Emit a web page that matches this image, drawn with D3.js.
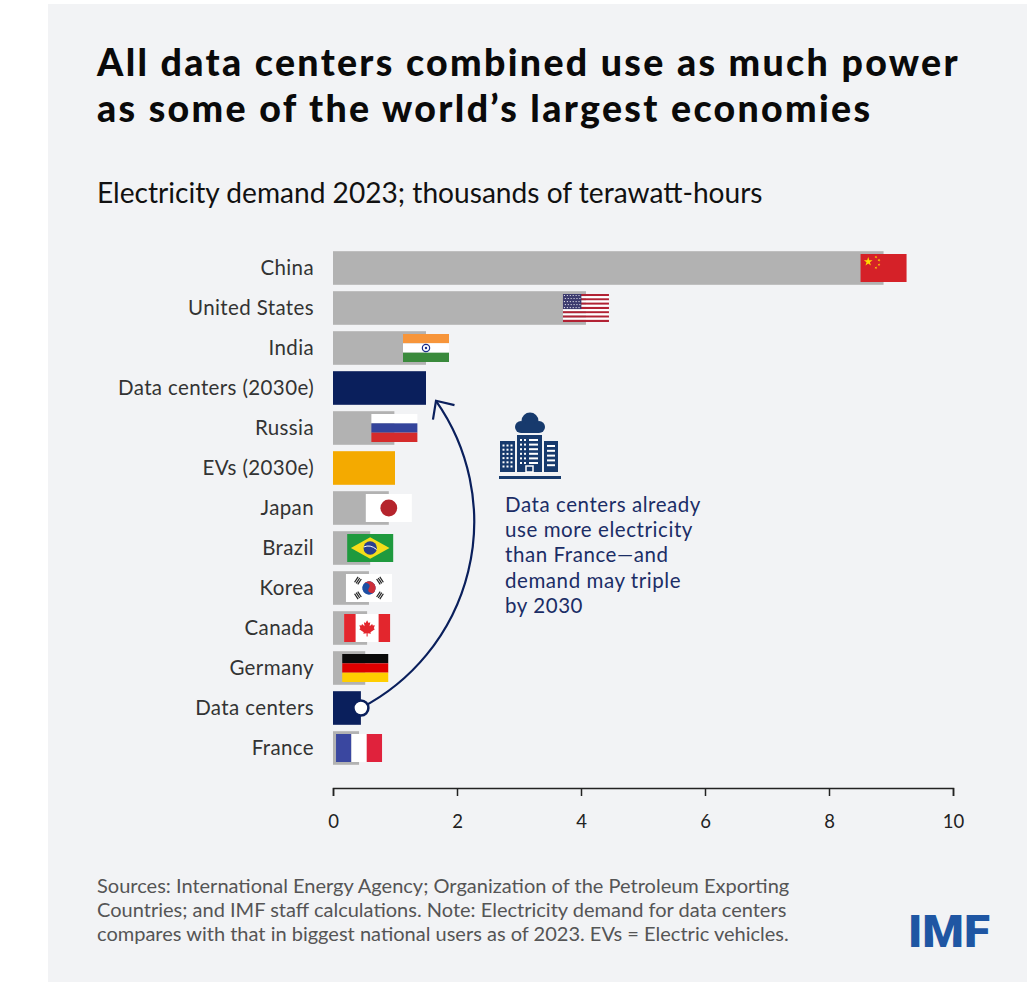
<!DOCTYPE html>
<html>
<head>
<meta charset="utf-8">
<script src="https://cdn.jsdelivr.net/npm/d3@7"></script>
<style>
  html, body { margin: 0; padding: 0; background: #fff; }
  svg { display: block; }
  text { font-family: Lato, "Open Sans", "DejaVu Sans", sans-serif; }
</style>
</head>
<body>
<div id="app"></div>
<script>
// data (thousands of TWh, 2023 unless marked 2030e)
const categories = ["China", "United States", "India", "Data centers (2030e)", "Russia", "EVs (2030e)",
  "Japan", "Brazil", "Korea", "Canada", "Germany", "Data centers", "France"];
const demand = [8.88, 4.08, 1.5, 1.5, 0.99, 1.0, 0.9, 0.6, 0.58, 0.55, 0.52, 0.45, 0.42];
const groups = ["country", "country", "country", "datacenter", "country", "ev",
  "country", "country", "country", "country", "country", "datacenter", "country"];
const flags = ["cn", "us", "in", null, "ru", null, "jp", "br", "kr", "ca", "de", null, "fr"];
const xTicks = [0, 2, 4, 6, 8, 10];

const titleLines = ["All data centers combined use as much power", "as some of the world\u2019s largest economies"];
const subtitle = "Electricity demand 2023; thousands of terawatt-hours";
const noteLines = ["Data centers already", "use more electricity", "than France\u2014and", "demand may triple", "by 2030"];
const sourceLines = [
  "Sources: International Energy Agency; Organization of the Petroleum Exporting",
  "Countries; and IMF staff calculations. Note: Electricity demand for data centers",
  "compares with that in biggest national users as of 2023. EVs = Electric vehicles."
];

const W = 1035, H = 999;
const navy = "#0a1f5c";
const colors = { country: "#b2b2b2", datacenter: navy, ev: "#f4aa00" };

const rows = categories.map((c, i) => ({ name: c, value: demand[i], group: groups[i], flag: flags[i] }));

const svg = d3.select("#app").append("svg").attr("width", W).attr("height", H);
svg.append("rect").attr("x", 48).attr("y", 4).attr("width", 979).attr("height", 978).attr("fill", "#f2f3f5");

// fit a block of lines to a target width by adjusting font size
function fitLines(sel, target, size) {
  const w = sel.nodes()[0].getComputedTextLength();
  sel.attr("font-size", size * target / w);
}
// fit by letter spacing, measured on one line of the block
function fitSpacing(sel, idx, target) {
  const node = sel.nodes()[idx];
  const w = node.getComputedTextLength();
  const n = node.textContent.length;
  sel.attr("letter-spacing", (target - w) / n);
}

const title = svg.append("g").selectAll("text").data(titleLines).join("text")
  .attr("x", 97).attr("y", (d, i) => 76 + i * 46)
  .attr("font-weight", 900).attr("font-size", 37.5).attr("fill", "#0a0a0a")
  .text(d => d);
fitSpacing(title, 0, 863);

const sub = svg.append("text").attr("x", 97).attr("y", 203)
  .attr("font-size", 24).attr("fill", "#111").text(subtitle);
fitLines(sub, 666, 24);

const x = d3.scaleLinear().domain([0, 10]).range([333, 953]);
const y = d3.scaleBand().domain(categories).range([248, 768]).paddingInner(0.16).paddingOuter(0.08);
const bw = y.bandwidth();

// category labels
const labels = svg.append("g").selectAll("text").data(rows).join("text")
  .attr("x", 314).attr("y", d => y(d.name) + bw / 2).attr("dy", "0.35em")
  .attr("text-anchor", "end").attr("font-size", 20.5).attr("fill", "#333")
  .text(d => d.name);
fitSpacing(labels, 3, 196);

// bars
svg.append("g").selectAll("rect").data(rows).join("rect")
  .attr("x", x(0)).attr("y", d => y(d.name))
  .attr("width", d => x(d.value) - x(0)).attr("height", bw)
  .attr("fill", d => colors[d.group]);

// flags
function starPath(cx, cy, r, rot) {
  const pts = [];
  for (let k = 0; k < 10; k++) {
    const a = rot + k * Math.PI / 5 - Math.PI / 2;
    const rr = k % 2 ? r * 0.382 : r;
    pts.push([cx + rr * Math.cos(a), cy + rr * Math.sin(a)]);
  }
  return "M" + pts.join("L") + "Z";
}
function stripes(g, w, h, cols, vertical) {
  const n = cols.length;
  cols.forEach((c, i) => {
    g.append("rect")
      .attr("x", vertical ? i * w / n : 0).attr("y", vertical ? 0 : i * h / n)
      .attr("width", vertical ? w / n : w).attr("height", vertical ? h : h / n)
      .attr("fill", c);
  });
}
const leaf = "M0,-7L1.4,-4.2L3,-5L2.4,-1.2L4.8,-3.4L5.4,-1.8L7.4,-2.2L6.4,0.8L7.4,1.6L3.2,4.6L3.6,6L0.5,5.4L0.5,8.5L-0.5,8.5L-0.5,5.4L-3.6,6L-3.2,4.6L-7.4,1.6L-6.4,0.8L-7.4,-2.2L-5.4,-1.8L-4.8,-3.4L-2.4,-1.2L-3,-5L-1.4,-4.2Z";

function drawFlag(g, code, w, h) {
  if (code === "cn") {
    g.append("rect").attr("width", w).attr("height", h).attr("fill", "#d52128");
    const u = w / 30;
    g.append("path").attr("d", starPath(5 * u, 5 * u, 3 * u, 0)).attr("fill", "#ffde00");
    [[10, 2], [12, 4], [12, 7], [10, 9]].forEach(p =>
      g.append("path").attr("d", starPath(p[0] * u, p[1] * u, 1 * u, 0.4)).attr("fill", "#ffde00"));
  } else if (code === "us") {
    for (let i = 0; i < 13; i++) {
      g.append("rect").attr("y", i * h / 13).attr("width", w).attr("height", h / 13)
        .attr("fill", i % 2 ? "#fff" : "#b22234");
    }
    const cw = w * 0.4, ch = h * 7 / 13;
    g.append("rect").attr("width", cw).attr("height", ch).attr("fill", "#3c3b6e");
    for (let r = 0; r < 5; r++) for (let c = 0; c < 6; c++) {
      g.append("circle").attr("cx", (c + 0.5 + (r % 2) * 0.3) * cw / 6.3).attr("cy", (r + 0.5) * ch / 5)
        .attr("r", 0.6).attr("fill", "#fff");
    }
  } else if (code === "in") {
    stripes(g, w, h, ["#f7953a", "#ffffff", "#3a8a3c"], false);
    g.append("circle").attr("cx", w / 2).attr("cy", h / 2).attr("r", h * 0.13)
      .attr("fill", "none").attr("stroke", "#1c2f8a").attr("stroke-width", 1.2);
    g.append("circle").attr("cx", w / 2).attr("cy", h / 2).attr("r", 1.2).attr("fill", "#1c2f8a");
  } else if (code === "ru") {
    stripes(g, w, h, ["#ffffff", "#34449b", "#d52b2b"], false);
  } else if (code === "jp") {
    g.append("rect").attr("width", w).attr("height", h).attr("fill", "#fff");
    g.append("circle").attr("cx", w / 2).attr("cy", h / 2).attr("r", h * 0.3).attr("fill", "#b5242c");
  } else if (code === "br") {
    g.append("rect").attr("width", w).attr("height", h).attr("fill", "#1f9a3e");
    const m = w * 0.08;
    g.append("path").attr("d", `M${m},${h / 2}L${w / 2},${m * 0.9}L${w - m},${h / 2}L${w / 2},${h - m * 0.9}Z`)
      .attr("fill", "#f5dd1a");
    g.append("circle").attr("cx", w / 2).attr("cy", h / 2).attr("r", h * 0.24).attr("fill", "#2a3f8f");
    g.append("path").attr("d", `M${w / 2 - h * 0.23},${h / 2 - 1}Q${w / 2},${h / 2 - 4} ${w / 2 + h * 0.23},${h / 2 + 1.5}`)
      .attr("fill", "none").attr("stroke", "#fff").attr("stroke-width", 1);
  } else if (code === "kr") {
    g.append("rect").attr("width", w).attr("height", h).attr("fill", "#fff");
    const r = h / 4.2;
    const c = g.append("g").attr("transform", `translate(${w / 2},${h / 2}) rotate(33.7)`);
    c.append("circle").attr("r", r).attr("fill", "#1d4fa3");
    c.append("path").attr("d", `M${-r},0A${r},${r} 0 0 1 ${r},0A${r / 2},${r / 2} 0 0 1 0,0A${r / 2},${r / 2} 0 0 0 ${-r},0Z`)
      .attr("fill", "#cd2e3a");
    [33.7, 146.3, 213.7, 326.3].forEach(a => {
      const t = g.append("g").attr("transform", `translate(${w / 2},${h / 2}) rotate(${a}) translate(${h * 0.47},0) rotate(90)`);
      for (let k = 0; k < 3; k++) {
        t.append("rect").attr("x", -3.2).attr("y", -2.6 + k * 1.9).attr("width", 6.4).attr("height", 1.2).attr("fill", "#222");
      }
    });
  } else if (code === "ca") {
    g.append("rect").attr("width", w).attr("height", h).attr("fill", "#fff");
    g.append("rect").attr("width", w / 4).attr("height", h).attr("fill", "#e3262d");
    g.append("rect").attr("x", w * 0.75).attr("width", w / 4).attr("height", h).attr("fill", "#e3262d");
    g.append("path").attr("d", leaf).attr("transform", `translate(${w / 2},${h / 2 - 0.5}) scale(1.05)`).attr("fill", "#e3262d");
  } else if (code === "de") {
    stripes(g, w, h, ["#0a0a0a", "#dd0000", "#ffce00"], false);
  } else if (code === "fr") {
    stripes(g, w, h, ["#3a47a0", "#ffffff", "#e0223c"], true);
  }
}

const fw = 46, fh = 28;
svg.append("g").selectAll("g").data(rows.filter(d => d.flag)).join("g")
  .attr("transform", d => `translate(${x(d.value) - fw / 2},${y(d.name) + bw / 2 - fh / 2})`)
  .each(function (d) { drawFlag(d3.select(this), d.flag, fw, fh); });

// axis
const axis = d3.axisBottom(x).tickValues(xTicks).tickSize(8).tickSizeOuter(8).tickPadding(19).tickFormat(d3.format("d"));
svg.append("g").attr("transform", "translate(0,788)").call(axis)
  .call(g => g.selectAll("path, line").attr("stroke", "#222").attr("stroke-width", 1.5))
  .call(g => g.selectAll("text").attr("font-size", 18.5).attr("fill", "#222")
    .attr("font-family", "Lato, 'Open Sans', sans-serif"));

// arrow from today's data centers to 2030e
const start = [x(demand[11]), y("Data centers") + bw / 2];
const end = [x(demand[3]) + 10, y("Data centers (2030e)") + bw - 4];
const arc = svg.append("path")
  .attr("d", `M${start[0]},${start[1]}A210,210 0 0 0 ${end[0]},${end[1]}`)
  .attr("fill", "none").attr("stroke", navy).attr("stroke-width", 2.2);
const L = arc.node().getTotalLength();
const p0 = arc.node().getPointAtLength(L - 10);
const ang = Math.atan2(end[1] - p0.y, end[0] - p0.x);
const head = [ang + Math.PI - 0.75, ang + Math.PI + 0.75]
  .map(a => [end[0] + 19 * Math.cos(a), end[1] + 19 * Math.sin(a)]);
svg.append("path")
  .attr("d", `M${head[0]}L${end[0]},${end[1]}L${head[1]}`)
  .attr("fill", "none").attr("stroke", navy).attr("stroke-width", 2.2).attr("stroke-linejoin", "miter");
svg.append("circle").attr("cx", start[0]).attr("cy", start[1]).attr("r", 7.5)
  .attr("fill", "#fff").attr("stroke", navy).attr("stroke-width", 2.5);

// data center icon
const ic = "#173a6d";
const icon = svg.append("g").attr("transform", "translate(499,412)");
icon.append("circle").attr("cx", 31).attr("cy", 9).attr("r", 8.5).attr("fill", ic);
icon.append("circle").attr("cx", 22).attr("cy", 15).attr("r", 6).attr("fill", ic);
icon.append("circle").attr("cx", 40).attr("cy", 15).attr("r", 6).attr("fill", ic);
icon.append("rect").attr("x", 22).attr("y", 12).attr("width", 18).attr("height", 9).attr("fill", ic);
icon.append("rect").attr("x", 1).attr("y", 29).attr("width", 15).attr("height", 31).attr("fill", ic);
icon.append("rect").attr("x", 18).attr("y", 23).attr("width", 25).attr("height", 37).attr("fill", ic);
icon.append("rect").attr("x", 45).attr("y", 29).attr("width", 14).attr("height", 31).attr("fill", ic);
icon.append("rect").attr("x", 0).attr("y", 64).attr("width", 62).attr("height", 3).attr("fill", ic);
for (let r = 0; r < 6; r++) {
  for (let c = 0; c < 3; c++) {
    icon.append("rect").attr("x", 3.5 + c * 4).attr("y", 32.5 + r * 4.2).attr("width", 2).attr("height", 2).attr("fill", "#fff");
  }
  icon.append("rect").attr("x", 21).attr("y", 27 + r * 4.6).attr("width", 2).attr("height", 2).attr("fill", "#fff");
  icon.append("rect").attr("x", 25).attr("y", 27 + r * 4.6).attr("width", 2).attr("height", 2).attr("fill", "#fff");
  icon.append("rect").attr("x", 30).attr("y", 27 + r * 4.6).attr("width", 9).attr("height", 2).attr("fill", "#fff");
}
for (let r = 0; r < 5; r++) {
  icon.append("rect").attr("x", 48).attr("y", 33 + r * 4.8).attr("width", 8).attr("height", 2).attr("fill", "#fff");
}
icon.append("rect").attr("x", 27).attr("y", 54).attr("width", 7).attr("height", 6).attr("fill", "none")
  .attr("stroke", "#fff").attr("stroke-width", 1.5);

// annotation text
const note = svg.append("g").selectAll("text").data(noteLines).join("text")
  .attr("x", 505).attr("y", (d, i) => 512 + i * 25.2)
  .attr("font-size", 20.5).attr("fill", "#1b2d66").text(d => d);
fitSpacing(note, 0, 196);

// sources
const src = svg.append("g").selectAll("text").data(sourceLines).join("text")
  .attr("x", 97).attr("y", (d, i) => 893 + i * 24)
  .attr("font-size", 18).attr("fill", "#555").text(d => d);
fitLines(src, 693, 18);

// logo
svg.append("text").attr("x", 908).attr("y", 947)
  .attr("font-size", 44).attr("font-weight", 900).attr("fill", "#1f56a3")
  .attr("textLength", 82).attr("lengthAdjust", "spacingAndGlyphs")
  .style("font-family", "'Roboto', 'Liberation Sans', sans-serif")
  .text("IMF");
</script>
</body>
</html>
